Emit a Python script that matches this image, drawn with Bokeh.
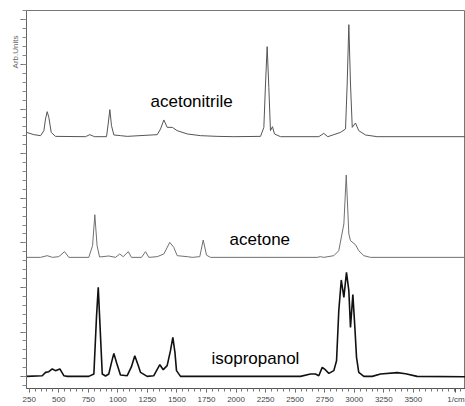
from bokeh.plotting import figure
from bokeh.models import FixedTicker, Range1d, Title
from bokeh.core.properties import value
from bokeh.embed import file_html
from bokeh.resources import INLINE

# Wavenumber (1/cm) and arbitrary-unit intensity (offset for display)
acetonitrile_x = [227, 289, 346, 374, 388, 402, 416, 436, 472, 726, 763, 802, 904, 918, 932, 946,
                  966, 1022, 1079, 1333, 1361, 1389, 1417, 1460, 1502, 1587, 1699, 1840, 1981,
                  2207, 2235, 2249, 2263, 2277, 2291, 2308, 2325, 2376, 2700, 2742, 2776, 2827,
                  2884, 2926, 2940, 2954, 2968, 2983, 3010, 3038, 3095, 3194, 3941]
acetonitrile_y = [5.478, 5.426, 5.404, 5.516, 5.778, 5.942, 5.814, 5.478, 5.388, 5.381, 5.426,
                  5.381, 5.381, 5.666, 5.987, 5.628, 5.419, 5.404, 5.388, 5.426, 5.554, 5.756,
                  5.590, 5.590, 5.516, 5.442, 5.404, 5.388, 5.381, 5.388, 5.590, 6.563, 7.399,
                  6.487, 5.516, 5.605, 5.442, 5.381, 5.381, 5.455, 5.381, 5.426, 5.478, 5.554,
                  6.563, 7.892, 6.563, 5.590, 5.688, 5.516, 5.419, 5.381, 5.381]

acetone_x = [227, 346, 402, 447, 500, 549, 585, 754, 786, 805, 824, 845, 923, 980, 1016, 1045,
             1088, 1115, 1200, 1234, 1262, 1333, 1389, 1439, 1473, 1502, 1587, 1629, 1693, 1722,
             1750, 1784, 2686, 2714, 2742, 2827, 2869, 2912, 2932, 2954, 2968, 3010, 3038, 3081,
             3137, 3941]
acetone_y = [2.675, 2.675, 2.713, 2.675, 2.691, 2.803, 2.675, 2.675, 2.937, 3.632, 2.937, 2.684,
             2.706, 2.675, 2.751, 2.691, 2.803, 2.675, 2.675, 2.803, 2.675, 2.691, 2.751, 3.011,
             2.899, 2.713, 2.691, 2.675, 2.691, 3.065, 2.724, 2.675, 2.675, 2.691, 2.675, 2.713,
             2.825, 3.424, 4.522, 3.200, 3.049, 2.960, 2.825, 2.713, 2.675, 2.675]

isopropanol_x = [227, 360, 388, 416, 445, 472, 509, 543, 574, 754, 797, 819, 834, 847, 868, 896,
                 923, 946, 966, 989, 1022, 1079, 1115, 1143, 1170, 1192, 1248, 1304, 1355, 1384,
                 1417, 1445, 1465, 1483, 1496, 1530, 2545, 2630, 2672, 2700, 2729, 2757, 2785,
                 2827, 2850, 2869, 2890, 2912, 2934, 2954, 2968, 2988, 3005, 3019, 3038, 3081,
                 3152, 3222, 3363, 3434, 3532, 3941]
isopropanol_y = [0.007, 0.022, 0.096, 0.112, 0.173, 0.135, 0.173, 0.022, 0.007, 0.007, 0.061,
                 1.330, 2.002, 1.256, 0.061, 0.016, 0.061, 0.314, 0.522, 0.314, 0.038, 0.022,
                 0.224, 0.471, 0.269, 0.096, 0.007, 0.022, 0.269, 0.157, 0.247, 0.583, 0.881,
                 0.538, 0.135, 0.007, 0.007, 0.061, 0.061, 0.022, 0.209, 0.150, 0.074, 0.135,
                 0.359, 1.480, 2.168, 1.778, 2.339, 1.928, 1.105, 1.839, 1.105, 0.433, 0.096,
                 0.007, 0.007, 0.061, 0.090, 0.067, 0.007, 0.0]

x_major_ticks = [250, 500, 750, 1000, 1250, 1500, 1750, 2000, 2250, 2500, 2750, 3000, 3250, 3500, 3860]
x_tick_labels = ["250", "500", "750", "1000", "1250", "1500", "1750", "2000", "2250", "2500",
                 "2750", "3000", "3250", "3500", "1/cm"]
y_axis_label = "Arb.Units"
compound_names = ["acetonitrile", "acetone", "isopropanol"]

X0, X1 = 227, 3941
Y0, Y1 = -0.265, 8.21

p = figure(width=465, height=406, output_backend="svg", toolbar_location=None,
           x_range=Range1d(X0, X1), y_range=Range1d(Y0, Y1),
           min_border_left=26, min_border_top=10, min_border_right=0, min_border_bottom=0)
p.background_fill_color = "white"
p.border_fill_color = "white"
p.outline_line_color = "#777777"
p.xgrid.visible = False
p.ygrid.visible = False

p.line(acetonitrile_x, acetonitrile_y, line_color="#555555", line_width=1)
p.line(acetone_x, acetone_y, line_color="#707070", line_width=1)
p.line(isopropanol_x, isopropanol_y, line_color="#111111", line_width=1.6)

# x axis
xa = p.xaxis[0]
xa.ticker = FixedTicker(ticks=x_major_ticks, minor_ticks=list(range(250, 3901, 50)))
xa.major_label_overrides = {t: l for t, l in zip(x_major_ticks, x_tick_labels)}
xa.major_label_text_font = "Liberation Sans"
xa.major_label_text_font_size = "8px"
xa.major_label_text_color = "#444444"
xa.major_label_standoff = 2
xa.major_tick_out = 4
xa.major_tick_in = 0
xa.minor_tick_out = 3
xa.minor_tick_in = 0
xa.axis_line_color = "#555555"
xa.major_tick_line_color = "#555555"
xa.minor_tick_line_color = "#777777"

# y axis
ya = p.yaxis[0]
y_major = list(range(0, 9))
ya.ticker = FixedTicker(ticks=y_major, minor_ticks=[round(-0.2 + 0.2 * i, 2) for i in range(43)])
ya.major_label_overrides = {t: "" for t in y_major}
ya.major_label_standoff = 0
ya.major_label_text_font_size = "1px"
ya.major_tick_out = 6
ya.major_tick_in = 0
ya.minor_tick_out = 4
ya.minor_tick_in = 0
ya.axis_line_color = "#666666"
ya.major_tick_line_color = "#666666"
ya.minor_tick_line_color = "#888888"

p.add_layout(Title(text=y_axis_label, align="right", offset=25, text_font="Liberation Sans",
                   text_font_size="8px", text_font_style="normal", text_color="#666666",
                   standoff=2), "left")

label_x = [1276, 1945, 1792]
label_y = [6.166, 3.078, 0.415]
p.text(x=label_x, y=label_y, text=compound_names, text_font=value("Liberation Sans"),
       text_font_size="17px", text_color="black", text_align="left", text_baseline="alphabetic")

open("out.html", "w").write(file_html(p, INLINE))
